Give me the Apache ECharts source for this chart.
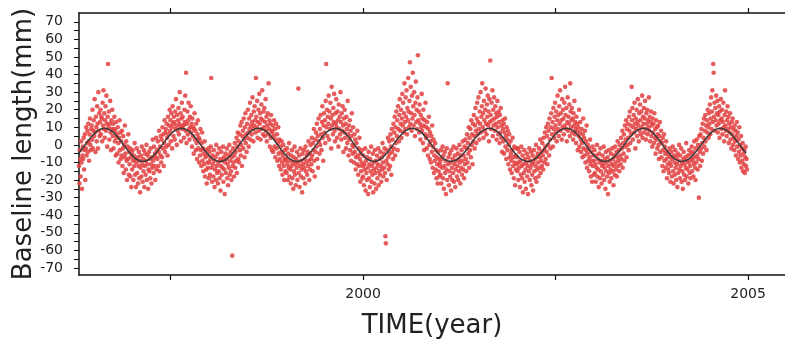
<!DOCTYPE html>
<html>
<head>
<meta charset="utf-8">
<script src="https://cdn.jsdelivr.net/npm/echarts@6/dist/echarts.min.js"></script>
<style>
html, body { margin: 0; padding: 0; background: #fff; }
#baseline { width: 785px; height: 340px; }
</style>
</head>
<body>
<div id="baseline"></div>
<script>
// daily solutions, one value kept every 2 days (mm)
var stepYr = 2 / 365.25;
var yearStarts = [1996.31, 1997, 1998, 1999, 2000, 2001, 2002, 2003, 2004];

var vals1996 = [-12,-22,-3,-8,-18,2,-10,-25,-6,-1,
    -8,4,-14,-3,6,-20,-2,10,-6,1,
    8,-4,12,2,-9,6,15,0,-3,9,
    11,3,20,-2,8,14,5,26,7,-4,
    16,10,2,22,12,-2,30,8,18,5,
    13,20,6,16,15,2,24,11,31,9,
    18,4,14,22,8,28,12,-1,16,46,
    10,19,3,12,25,7,-3,14,9,20,
    5,12,-2,9,16,2,8,-6,13,4,
    6,-5,10,1,-10,4,14,-3,7,-8,
    2,-6,8,-12,-2,5,-16,0,-7,11,
    -5,-14,2,-9,-20,-1,-8,6,-17,-4,
    -11,-2,-18,-7,-24,-5];
var vals1997 = [-14,-3,-9,-20,-6,-12,1,-17,-8,-24,
    -10,-2,-16,-7,-22,-12,-4,-19,-9,-27,
    -13,-6,-18,-1,-11,-21,-8,-15,-3,-24,
    -12,-5,-17,-9,0,-20,-11,-6,-25,-14,
    -4,-15,-8,-19,-2,-11,-22,-7,-13,3,
    -9,-16,-1,-12,-5,-20,-7,4,-14,-3,
    -8,2,-12,-4,8,-15,-1,-6,5,-10,
    3,-7,10,-2,6,-12,1,14,-4,7,
    9,-1,12,4,-6,16,6,0,11,20,
    8,14,2,18,10,-2,22,12,5,16,
    13,3,19,9,26,11,0,17,8,14,
    21,6,12,30,10,18,2,15,24,9,
    16,11,11,4,20,13,28,8,41,1,
    12,19,6,14,24,9,3,16,10,22,
    7,12,-1,15,5,10,-5,9,18,3,
    8,-3,12,1,-8,6,14,-2,4,-10,
    3,-6,9,-3,-12,1,7,-9,-2,-15,
    -5,-11,2,-18,-7,-3,-14,-22,-6,-10,
    -13,-2,-19];
var vals1998 = [-10,-4,-17,-8,-1,38,-13,-21,-6,-11,
    -18,-3,-9,-24,-14,-7,-20,0,-12,-16,
    -5,-22,-10,-15,-2,-19,-8,-26,-12,-4,
    -17,-9,-13,-1,-21,-7,-14,-28,-10,-5,
    -16,-8,-2,-19,-11,-23,-6,-13,0,-17,
    -9,-4,-15,-20,-7,-63,-12,-2,-10,-18,
    -6,1,-13,-4,-9,4,-16,-1,7,-8,
    2,-10,6,-3,11,-6,0,13,-12,5,
    8,-2,15,3,-7,10,18,1,6,-4,
    12,4,20,7,-1,15,9,24,3,11,
    17,6,13,27,9,2,19,11,22,14,
    7,38,16,10,25,4,13,20,8,29,
    12,18,3,15,23,9,31,14,6,19,
    10,21,5,13,26,8,16,2,11,18,
    6,35,9,14,-1,12,4,17,8,-3,
    7,11,-4,5,14,-1,9,-7,3,12,
    -2,6,-9,1,10,-5,-12,3,-8,-1,
    -14,-4,2,-10,-17,-6,0,-12,-20,-8,
    -3,-15,-9];
var vals1999 = [-8,-16,-2,-11,-20,-5,-13,1,-18,-9,
    -14,-22,-6,-12,-3,-19,-10,-25,-7,-15,
    -1,-17,-11,-23,-8,-13,-4,-20,-10,32,
    -16,-6,-24,-12,-2,-18,-9,-14,-27,-5,
    -11,-19,-3,-13,-8,-22,-1,-15,-10,-6,
    -17,-4,-12,2,-9,-20,-5,-14,0,-8,
    -11,4,-6,-15,1,-3,9,-9,-18,3,
    -4,7,-1,12,-8,5,-13,15,2,-5,
    9,0,17,6,-3,13,22,4,-9,11,
    18,7,14,1,25,46,10,20,5,16,
    12,28,3,19,9,24,15,-2,33,11,
    17,6,21,13,29,8,2,18,12,26,
    10,4,19,14,-1,23,9,16,6,30,
    13,3,18,8,22,11,-4,15,7,20,
    4,12,-2,16,9,1,25,6,-6,11,
    3,14,-3,8,-9,5,18,0,-5,10,
    -1,-10,6,-4,3,-14,-7,1,-11,8,
    -6,-17,-2,-12,4,-8,-21,-5,-15,-10,
    -3,-19,-12];
var vals2000 = [-18,-6,-23,-11,-14,-2,-26,-9,-16,-20,
    -7,-13,-28,-4,-19,-11,-24,-8,-15,-1,
    -21,-12,-17,-5,-27,-10,-14,-22,-3,-16,
    -9,-25,-13,-6,-19,-11,-2,-23,-15,-8,
    -17,-4,-12,-21,-7,-14,1,-10,-18,-5,
    -13,-2,-16,-52,-56,-9,-20,-3,-11,4,
    -7,-14,2,-5,-12,6,-1,-17,9,-4,
    3,-8,12,-2,7,16,-6,10,1,19,
    5,14,-3,22,9,2,17,26,8,12,
    20,4,15,29,11,24,7,18,35,13,
    9,27,16,31,6,21,14,38,19,10,
    25,47,12,33,18,8,28,15,41,22,
    11,30,17,5,24,36,13,20,9,27,
    51,14,19,7,23,12,3,17,10,29,
    8,15,1,20,11,-3,14,6,24,4,
    10,-2,13,5,-6,9,16,0,-8,7,
    2,-10,5,-4,11,-13,-1,3,-16,-6,
    -9,1,-14,-3,-19,-7,-11,-22,-4,-15,
    -8,-18,-12];
var vals2001 = [-10,-17,-3,-22,-8,-13,-1,-19,-6,-25,
    -12,-4,-16,-9,-28,-14,-2,-20,35,-11,
    -7,-23,-15,-5,-18,-10,-26,-3,-13,-20,
    -8,-16,-1,-21,-11,-6,-24,-14,-9,-2,
    -18,-12,-5,-20,-8,-15,0,-10,-22,-6,
    -13,-3,-17,-9,2,-14,-6,-19,-1,-11,
    3,-8,-15,-2,6,-10,1,-5,10,-13,
    4,-3,9,-7,14,0,6,-11,12,2,
    17,5,-2,11,21,8,1,15,24,6,
    13,27,9,3,19,12,30,7,16,22,
    35,10,18,4,25,14,8,20,32,12,
    6,23,16,28,11,19,2,26,13,48,
    17,9,24,14,31,5,20,11,27,15,
    8,22,12,18,3,16,25,10,6,19,
    13,1,17,7,21,4,11,-4,14,9,
    2,12,-5,7,15,-1,5,-8,10,3,
    -3,8,-11,0,6,-7,-14,2,-5,-9,
    -16,-3,4,-12,-7,-19,-1,-10,-23,-6,
    -14,-2,-11];
var vals2002 = [-7,-15,-2,-20,-10,-13,-4,-24,-9,-17,
    -1,-12,-19,-6,-27,-11,-16,-3,-21,-8,
    -14,-25,-10,-5,-18,-12,-28,-7,-15,-2,
    -20,-9,-13,-4,-23,-11,-17,-6,-26,-10,
    -3,-15,-8,-19,-12,0,-21,-7,-14,-5,
    -10,-18,-2,-13,-7,3,-16,-9,-4,-12,
    1,-6,-14,4,-3,-10,7,-1,-8,10,
    -4,5,-11,12,0,8,-6,15,3,-2,
    10,18,38,6,13,-1,21,9,4,16,
    24,11,7,19,2,14,28,9,17,5,
    22,12,31,8,18,14,3,26,10,20,
    15,6,24,11,33,17,9,21,2,13,
    27,8,16,12,23,5,35,19,10,14,
    21,7,15,3,18,11,25,6,13,9,
    1,16,8,12,-3,10,5,20,-1,7,
    13,3,-4,9,1,-7,6,15,-2,4,
    -6,8,-10,2,-3,11,-13,-5,0,-9,
    -2,-15,-7,3,-11,-18,-4,-9,-21,-1,
    -12,-6,-17];
var vals2003 = [-9,-3,-16,-11,-21,-6,-13,0,-18,-8,
    -14,-24,-5,-10,-19,-2,-15,-9,-22,-12,
    -6,-17,-11,-1,-20,-13,-8,-25,-4,-15,
    -10,-18,-7,-28,-12,-3,-16,-21,-9,-14,
    -5,-19,-11,-2,-15,-8,-23,-12,-6,-17,
    -1,-10,-14,-4,-18,-7,2,-12,-9,-3,
    -15,0,-6,-11,4,-8,-2,8,-13,1,
    -5,6,-9,11,-1,3,14,-7,9,0,
    12,4,-3,16,8,19,1,11,6,33,
    14,21,3,10,17,7,24,12,-2,15,
    9,20,5,13,26,11,2,18,8,23,
    14,6,19,10,28,4,16,12,21,7,
    15,25,9,3,18,12,20,6,14,10,
    27,8,16,2,13,19,5,11,-1,15,
    7,12,1,18,4,9,-5,14,3,10,
    -2,6,11,0,-8,5,13,-4,2,8,
    -7,1,-12,4,-3,-15,6,-9,-1,-5,
    -13,2,-8,-19,-4,-11,-14,-6,-16,-2,
    -10,-21,-7];
var vals2004 = [-12,-4,-18,-8,-1,-15,-22,-6,-10,-17,
    -3,-13,-20,-7,-11,-24,-5,-16,-9,0,
    -14,-19,-6,-12,-2,-21,-10,-15,-25,-8,
    -4,-17,-11,-20,-7,-13,1,-18,-9,-14,
    -6,-22,-10,-3,-16,-12,-19,-5,-8,-1,
    -15,-9,-4,-18,-11,2,-7,-13,-20,-2,
    -10,3,-6,-14,0,-8,-30,5,-4,-12,
    6,-2,9,-9,1,12,-5,4,15,-1,
    8,17,2,11,-3,14,7,20,10,4,
    18,12,23,6,15,27,9,19,31,13,
    46,41,16,24,8,21,14,28,11,18,
    25,7,17,12,22,4,19,14,26,9,
    15,20,6,13,24,10,2,17,31,11,
    8,19,5,14,22,9,16,1,12,7,
    18,3,10,-2,13,6,15,0,9,4,
    -3,11,2,8,-6,5,13,-1,7,-8,
    3,-4,10,-10,0,-6,5,-13,-2,-9,
    1,-15,-5,-11,-3,-16,-7,-1,-12,-8,-14];
var dotVals = [vals1996, vals1997, vals1998, vals1999, vals2000, vals2001, vals2002, vals2003, vals2004];

// fitted annual term, read every month
var lineStart = 1996.307;
var lineStep = 1 / 12;
var lineVals = [-4.75,0,4.75,8.2,9.5,8.2,4.75,0,-4.75,-8.2,-9.5,-8.2,
    -4.75,0,4.75,8.2,9.5,8.2,4.75,0,-4.75,-8.2,-9.5,-8.2,
    -4.75,0,4.75,8.2,9.5,8.2,4.75,0,-4.75,-8.2,-9.5,-8.2,
    -4.75,0,4.75,8.2,9.5,8.2,4.75,0,-4.75,-8.2,-9.5,-8.2,
    -4.75,0,4.75,8.2,9.5,8.2,4.75,0,-4.75,-8.2,-9.5,-8.2,
    -4.75,0,4.75,8.2,9.5,8.2,4.75,0,-4.75,-8.2,-9.5,-8.2,
    -4.75,0,4.75,8.2,9.5,8.2,4.75,0,-4.75,-8.2,-9.5,-8.2,
    -4.75,0,4.75,8.2,9.5,8.2,4.75,0,-4.75,-8.2,-9.5,-8.2,
    -4.75,0,4.75,8.2,9.5,8.2,4.75,0,-4.75];

var xTicks = [1997.5, 2000, 2002.5, 2005];
var xLabels = [2000, 2005];
var yTicks = [-70,-65,-60,-55,-50,-45,-40,-35,-30,-25,-20,-15,-10,-5,0,5,10,15,20,25,30,35,40,45,50,55,60,65,70];
var yLabels = [-70,-60,-50,-40,-30,-20,-10,0,10,20,30,40,50,60,70];

var dots = [];
yearStarts.forEach(function(s, k) {
    dotVals[k].forEach(function(v, i) {
        dots.push([s + i * stepYr, v]);
    });
});
var fit = lineVals.map(function(v, i) {
    return [lineStart + i * lineStep, v];
});

var myChart = echarts.init(document.getElementById('baseline'));
var axisFont = 'DejaVu Sans';
option = {
    animation: false,
    backgroundColor: '#fff',
    grid: {
        left: 79,
        right: 0,
        top: 13,
        bottom: 65,
        outerBoundsMode: 'none'
    },
    xAxis: [{
        type: 'value',
        min: 1996.31,
        max: 2005.48,
        name: 'TIME(year)',
        nameLocation: 'middle',
        nameGap: 38,
        nameMoveOverlap: false,
        nameTextStyle: {
            fontFamily: axisFont,
            fontSize: 26,
            color: '#222'
        },
        axisLine: {
            onZero: false,
            lineStyle: { color: '#111', width: 1.5 }
        },
        axisTick: {
            customValues: xTicks,
            length: 5,
            lineStyle: { color: '#111', width: 1.2 }
        },
        axisLabel: {
            customValues: xLabels,
            margin: 12,
            fontFamily: axisFont,
            fontSize: 14,
            color: '#222',
            formatter: function(v) {
                return String(v);
            }
        },
        splitLine: { show: false }
    }, {
        type: 'value',
        position: 'top',
        min: 1996.31,
        max: 2005.48,
        axisLine: {
            onZero: false,
            lineStyle: { color: '#111', width: 1.5 }
        },
        axisTick: {
            customValues: xTicks,
            length: 5,
            lineStyle: { color: '#111', width: 1.2 }
        },
        axisLabel: { show: false },
        splitLine: { show: false }
    }],
    yAxis: [{
        type: 'value',
        min: -74,
        max: 75,
        name: 'Baseline length(mm)',
        nameLocation: 'middle',
        nameGap: 42,
        nameMoveOverlap: false,
        nameTextStyle: {
            fontFamily: axisFont,
            fontSize: 26,
            color: '#222'
        },
        axisLine: {
            show: true,
            onZero: false,
            lineStyle: { color: '#111', width: 1.5 }
        },
        axisTick: {
            customValues: yTicks,
            length: 5,
            lineStyle: { color: '#111', width: 1 }
        },
        axisLabel: {
            customValues: yLabels,
            margin: 16,
            fontFamily: axisFont,
            fontSize: 14,
            color: '#222'
        },
        splitLine: { show: false }
    }],
    series: [{
        type: 'scatter',
        data: dots,
        symbolSize: 4.6,
        itemStyle: {
            color: '#e2403f',
            opacity: 0.85
        },
        silent: true
    }, {
        type: 'line',
        data: fit,
        smooth: true,
        showSymbol: false,
        z: 3,
        lineStyle: {
            color: '#3a3a3a',
            width: 1.5
        },
        silent: true
    }]
};
myChart.setOption(option);
</script>
</body>
</html>
